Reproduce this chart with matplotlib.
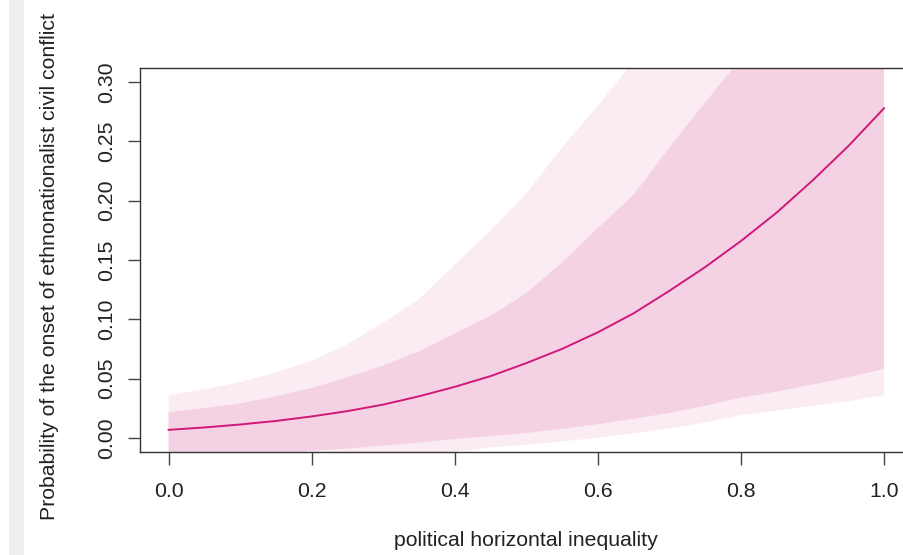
import matplotlib
matplotlib.use("Agg")
import matplotlib.pyplot as plt
from matplotlib.patches import Rectangle

# ---- data ----
x_vals = [0.00, 0.05, 0.10, 0.15, 0.20, 0.25, 0.30, 0.35, 0.40, 0.45, 0.50,
          0.55, 0.60, 0.65, 0.70, 0.75, 0.80, 0.85, 0.90, 0.95, 1.00]
mean_prob = [0.0067, 0.0087, 0.0112, 0.0142, 0.018, 0.0225, 0.028, 0.035, 0.043, 0.052, 0.063,
             0.075, 0.089, 0.105, 0.124, 0.144, 0.166, 0.190, 0.217, 0.246, 0.278]
inner_upper = [0.0216, 0.025, 0.029, 0.035, 0.042, 0.051, 0.061, 0.073, 0.088, 0.103, 0.122,
               0.148, 0.177, 0.205, 0.245, 0.283, 0.320, 0.360, 0.410, 0.460, 0.520]
inner_lower = [-0.020, -0.018, -0.016, -0.014, -0.011, -0.009, -0.0065, -0.004, -0.001, 0.0015, 0.004,
               0.0075, 0.0115, 0.016, 0.021, 0.027, 0.034, 0.039, 0.045, 0.051, 0.058]
outer_upper = [0.036, 0.041, 0.047, 0.055, 0.065, 0.079, 0.097, 0.117, 0.146, 0.175, 0.206,
               0.245, 0.280, 0.318, 0.360, 0.410, 0.460, 0.520, 0.580, 0.650, 0.720]
outer_lower = [-0.040, -0.038, -0.035, -0.032, -0.029, -0.025, -0.021, -0.017, -0.012, -0.008, -0.006,
               -0.003, 0.000, 0.004, 0.008, 0.013, 0.019, 0.023, 0.027, 0.031, 0.036]

x_ticks = [0.0, 0.2, 0.4, 0.6, 0.8, 1.0]
x_tick_labels = ["0.0", "0.2", "0.4", "0.6", "0.8", "1.0"]
y_ticks = [0.00, 0.05, 0.10, 0.15, 0.20, 0.25, 0.30]
y_tick_labels = ["0.00", "0.05", "0.10", "0.15", "0.20", "0.25", "0.30"]

x_label = "political horizontal inequality"
y_label = "Probability of the onset of ethnonationalist civil conflict"

# ---- styling ----
plt.rcParams['font.family'] = ['Liberation Sans', 'DejaVu Sans']
W, H = 904, 555
FS = 15.3
fig = plt.figure(figsize=(W / 100, H / 100), dpi=100)
fig.patch.set_facecolor("white")

# light grey strip at the far left
fig.patches.append(Rectangle((9 / W, 0), 15 / W, 1, transform=fig.transFigure,
                             facecolor="#efefef", edgecolor="none", zorder=0))

left_px, top_px, bottom_px, right_px = 140, 68, 452, 912.6
ax = fig.add_axes([left_px / W, 1 - bottom_px / H,
                   (right_px - left_px) / W, (bottom_px - top_px) / H])

ax.fill_between(x_vals, outer_lower, outer_upper, color="#fbebf3", linewidth=0, zorder=1)
ax.fill_between(x_vals, inner_lower, inner_upper, color="#f4d2e3", linewidth=0, zorder=2)
ax.plot(x_vals, mean_prob, color="#d0187a", linewidth=1.4, zorder=3)

ax.set_xlim(-0.04, 1.04)
ax.set_ylim(-0.012, 0.312)

ax.set_xticks(x_ticks)
ax.set_xticklabels(x_tick_labels)
ax.set_yticks(y_ticks)
ax.set_yticklabels(y_tick_labels, rotation=90, va="center")

for s in ax.spines.values():
    s.set_color("#333333")
    s.set_linewidth(1.0)

ax.tick_params(axis="both", direction="out", length=9.0, width=1.0, color="#444444",
               labelsize=FS, labelcolor="#222222")
ax.tick_params(axis="x", pad=12.5)
ax.tick_params(axis="y", pad=8)

fig.text(526 / W, 1 - 541 / H, x_label, ha="center", va="center", fontsize=FS, color="#222222")
fig.text(50 / W, 1 - 266 / H, y_label, ha="center", va="center", rotation=90,
         fontsize=FS, color="#222222")

fig.savefig("out.png", dpi=100)
